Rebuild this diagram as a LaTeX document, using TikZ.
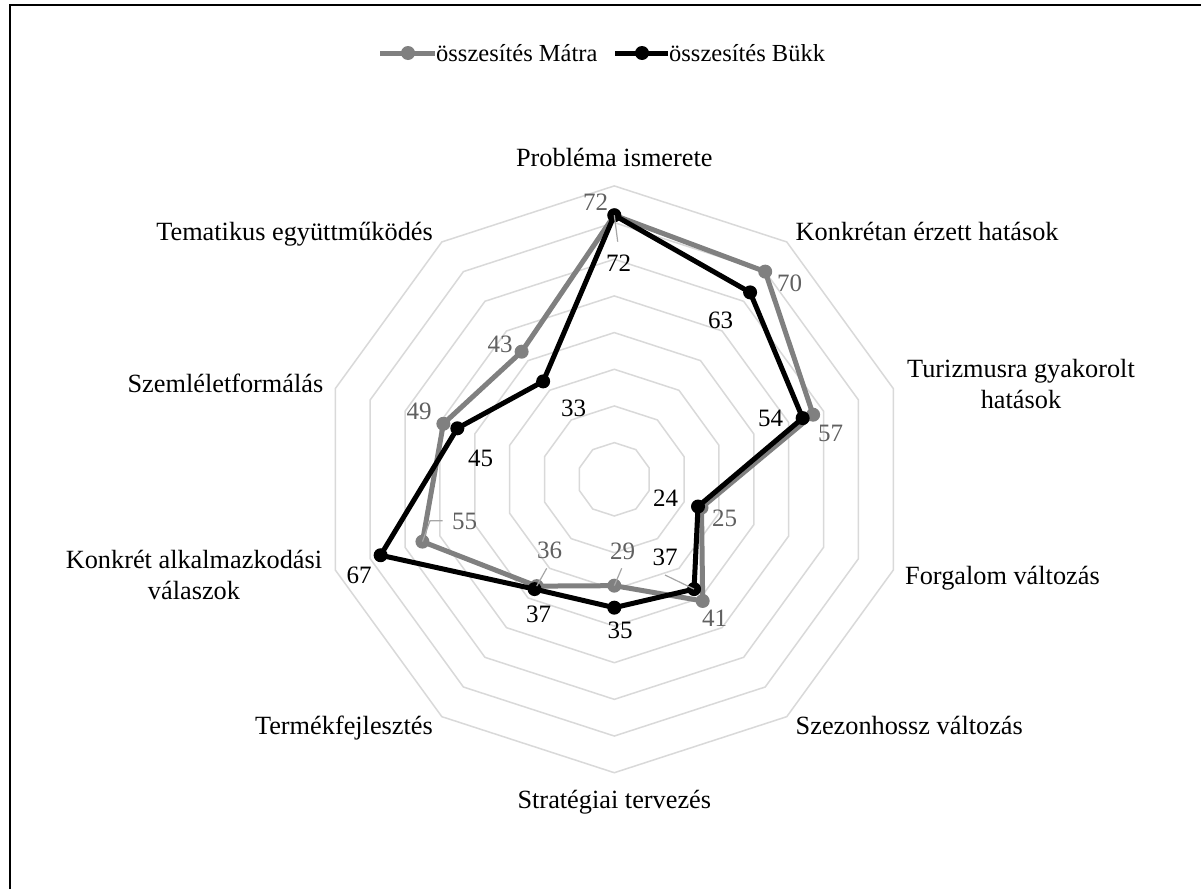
\documentclass[tikz,border=0pt]{standalone}
\usepackage{fontspec}
\setmainfont{Liberation Serif}
\definecolor{gridc}{RGB}{217,217,217}
\definecolor{matra}{RGB}{128,128,128}
\definecolor{matratxt}{RGB}{96,96,96}
\definecolor{leadc}{RGB}{166,166,166}
\begin{document}
\begin{tikzpicture}[x=1pt,y=-1pt,
  gridline/.style={draw=gridc, line width=1.5pt},
  mline/.style={draw=matra, line width=5pt, line join=round, line cap=round},
  bline/.style={draw=black, line width=5pt, line join=round, line cap=round},
  mdot/.style={fill=matra},
  bdot/.style={fill=black},
  cat/.style={inner sep=0pt, font=\fontsize{26.3}{31}\selectfont, text=black},
  mval/.style={inner sep=0pt, font=\fontsize{25}{30}\selectfont, text=matratxt},
  bval/.style={inner sep=0pt, font=\fontsize{25}{30}\selectfont, text=black},
  leg/.style={inner sep=0pt, font=\fontsize{24.5}{29}\selectfont, text=black},
  leader/.style={draw=leadc, line width=1.2pt}]
\useasboundingbox (0,0) rectangle (1201,889);
\fill[white] (0,0) rectangle (1201,889);
\draw[line width=2.5pt] (10,889) -- (10,5) -- (1201,5);
% grid
\foreach \r in {1,...,8}
  \draw[gridline] plot[samples at={0,36,...,324}] ({614.3+36.675*\r*sin(\x)},{479.3-36.675*\r*cos(\x)}) -- cycle;
% data points
\foreach \v [count=\k from 0] in {72,70,57,25,41,29,36,55,49,43}
  \coordinate (m\k) at ({614.3+3.6675*\v*sin(36*\k)},{479.3-3.6675*\v*cos(36*\k)});
\foreach \v [count=\k from 0] in {72,63,54,24,37,35,37,67,45,33}
  \coordinate (b\k) at ({614.3+3.6675*\v*sin(36*\k)},{479.3-3.6675*\v*cos(36*\k)});
% Matra series
\draw[mline] (m0)--(m1)--(m2)--(m3)--(m4)--(m5)--(m6)--(m7)--(m8)--(m9)--cycle;
\foreach \k in {0,...,9} \fill[mdot] (m\k) circle (7pt);
% Bukk series
\draw[bline] (b0)--(b1)--(b2)--(b3)--(b4)--(b5)--(b6)--(b7)--(b8)--(b9)--cycle;
\foreach \k in {0,...,9} \fill[bdot] (b\k) circle (7pt);
% leader lines
\coordinate (lb0) at (617.7,241.7);
\draw[leader] (b0) -- (lb0);
\coordinate (lm5) at (621.7,568.3);
\draw[leader] (m5) -- (lm5);
\coordinate (lm6) at (546.7,568.3);
\draw[leader] (m6) -- (lm6);
\coordinate (lb4) at (665,575);
\draw[leader] (b4) -- (lb4);
\coordinate (lm7a) at (430,520.7);
\coordinate (lm7b) at (442.7,520.7);
\draw[leader] (m7) -- (lm7a) -- (lm7b);
% Matra value labels
\node[mval] (vm0) at (595.5,202.5) {72};
\node[mval] (vm1) at (789.5,283.5) {70};
\node[mval] (vm2) at (830.5,433.5) {57};
\node[mval] (vm3) at (724.5,518.5) {25};
\node[mval] (vm4) at (714.5,618.5) {41};
\node[mval] (vm5) at (622.5,551.5) {29};
\node[mval] (vm6) at (549.5,550) {36};
\node[mval] (vm7) at (464.5,521.5) {55};
\node[mval] (vm8) at (419,411.5) {49};
\node[mval] (vm9) at (500,344.5) {43};
% Bukk value labels
\node[bval] (vb0) at (618.7,263.3) {72};
\node[bval] (vb1) at (720.5,320) {63};
\node[bval] (vb2) at (770.5,418.5) {54};
\node[bval] (vb3) at (665.5,498.5) {24};
\node[bval] (vb4) at (665,557) {37};
\node[bval] (vb5) at (620,630.5) {35};
\node[bval] (vb6) at (538.5,614.5) {37};
\node[bval] (vb7) at (359,575) {67};
\node[bval] (vb8) at (480.5,458) {45};
\node[bval] (vb9) at (573.5,408) {33};
% category labels
\node[cat, anchor=base] (c0) at (614.3,166.5) {Probléma ismerete};
\node[cat, anchor=base west] (c1) at (795.5,240) {Konkrétan érzett hatások};
\node[cat, anchor=base] (c2a) at (1021,377) {Turizmusra gyakorolt};
\node[cat, anchor=base] (c2b) at (1021,408.5) {hatások};
\node[cat, anchor=base west] (c3) at (905,584) {Forgalom változás};
\node[cat, anchor=base west] (c4) at (795.5,734) {Szezonhossz változás};
\node[cat, anchor=base] (c5) at (614.3,808) {Stratégiai tervezés};
\node[cat, anchor=base east] (c6) at (433,734) {Termékfejlesztés};
\node[cat, anchor=base] (c7a) at (194,568) {Konkrét alkalmazkodási};
\node[cat, anchor=base] (c7b) at (194,599.5) {válaszok};
\node[cat, anchor=base east] (c8) at (323.5,392) {Szemléletformálás};
\node[cat, anchor=base east] (c9) at (433,240) {Tematikus együttműködés};
% legend
\coordinate (la1) at (380,53);
\coordinate (la2) at (435,53);
\draw[mline, line cap=butt] (la1) -- (la2);
\fill[mdot] (408,53) circle (7pt);
\node[leg, anchor=base west] (lt1) at (436,61) {összesítés Mátra};
\coordinate (lb1) at (615,53);
\coordinate (lb2) at (668,53);
\draw[bline, line cap=butt] (lb1) -- (lb2);
\fill[bdot] (642,53) circle (7pt);
\node[leg, anchor=base west] (lt2) at (669,61) {összesítés Bükk};
\end{tikzpicture}
\end{document}
